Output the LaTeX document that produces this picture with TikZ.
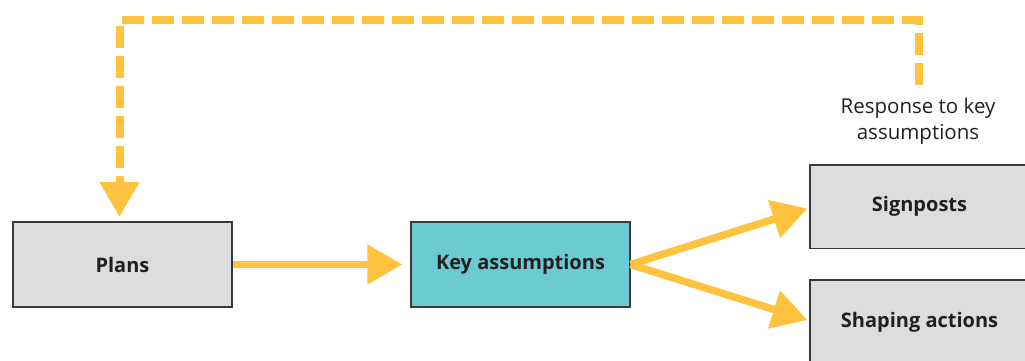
\documentclass[tikz,border=0pt]{standalone}
\usepackage{fontspec}
\setmainfont{Open Sans}
\usetikzlibrary{arrows.meta}

\definecolor{flowyellow}{HTML}{FFC340}
\definecolor{boxgray}{HTML}{DCDDDF}
\definecolor{boxteal}{HTML}{6CCAD2}
\definecolor{boxedge}{HTML}{3A3A3A}
\definecolor{ink}{HTML}{231F20}

\begin{document}
\begin{tikzpicture}[x=1pt,y=-1pt,
  stage/.style={draw=boxedge, line width=1.2pt, fill=boxgray,
    minimum width=219pt, minimum height=85pt, inner sep=0pt,
    font=\fontsize{20}{24}\selectfont\bfseries, text=ink},
  flow/.style={draw=flowyellow, line width=7.5pt,
    -{Triangle[width=38pt,length=35pt]}},
  feedback/.style={flow, line width=8pt, dash pattern=on 22pt off 8pt}]
  \useasboundingbox (0,0) rectangle (1025,360);
  \clip (0,0) rectangle (1025,360);

  % the four stages
  \node[stage] (plans) at (122.5,264.5) {Plans};
  \node[stage, fill=boxteal] (key) at (520.5,264.5) {Key assumptions};
  \node[stage, minimum height=83.5pt] (sign) at (919.5,206.75) {Signposts};
  \node[stage] (shape) at (919.5,322.5) {Shaping actions};

  % label for the feedback loop
  \node[align=center, font=\fontsize{20.5}{26}\selectfont, text=ink,
        inner sep=0pt] (resp) at (918,121) {Response to key\\assumptions};

  % feedback loop back to the plans
  \coordinate (fbstart) at (919,85);
  \coordinate (fbright) at (919,20);
  \coordinate (fbleft) at (119.5,20);
  \coordinate (fbend) at (119.5,217);
  \draw[feedback] (fbstart) -- (fbright) -- (fbleft) -- (fbend);

  % forward flow
  \draw[flow] (plans.east) -- ([xshift=-8pt]key.west);
  \draw[flow] (key.east) -- ([xshift=-2pt,yshift=-1.75pt]sign.west);
  \draw[flow] (key.east) -- ([xshift=-2pt,yshift=2.5pt]shape.west);
\end{tikzpicture}
\end{document}
